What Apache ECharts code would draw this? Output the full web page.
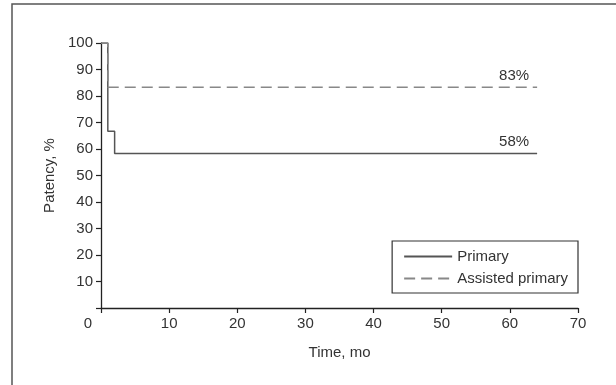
<!DOCTYPE html>
<html>
<head>
<meta charset="utf-8">
<script src="https://cdn.jsdelivr.net/npm/echarts@6/dist/echarts.min.js"></script>
<style>
  html, body { margin: 0; padding: 0; background: #fff; }
  #chart { width: 616px; height: 385px; }
</style>
</head>
<body>
<div id="chart"></div>
<script>
const seriesNames = ["Primary", "Assisted primary"];
// Kaplan-Meier steps: [time (mo), patency (%)]
const primary = [[0, 100], [1, 66.7], [2, 58.3], [64, 58.3]];
const assisted = [[0, 100], [1, 83.3], [64, 83.3]];
const endLabels = ["58%", "83%"];
const xTicks = [0, 10, 20, 30, 40, 50, 60, 70];
const yTicks = [10, 20, 30, 40, 50, 60, 70, 80, 90, 100];

const font = "'Liberation Sans Narrow', 'Arial Narrow', 'Liberation Sans', sans-serif";
const fs = 15;

function endLabel(text) {
  return {
    show: true, formatter: text, align: "right", verticalAlign: "bottom",
    offset: [-8, -4], distance: 0,
    color: "#333", fontSize: fs, fontFamily: font
  };
}

const chart = echarts.init(document.getElementById("chart"));
chart.setOption({
  animation: false,
  textStyle: { fontFamily: font },
  graphic: [
    { type: "polyline", shape: { points: [[12, 385], [12, 4], [616, 4]] },
      style: { stroke: "#555", lineWidth: 1.5, fill: null }, silent: true }
  ],
  grid: { left: 101, right: 38, top: 43, bottom: 77 },
  legend: {
    show: true,
    right: 38, top: 241, orient: "vertical",
    padding: [8, 10, 7, 11], itemGap: 7,
    borderColor: "#333", borderWidth: 1.2,
    itemWidth: 48, itemHeight: 10,
    itemStyle: { opacity: 0 },
    textStyle: { fontSize: fs, color: "#333", fontFamily: font },
    data: seriesNames
  },
  xAxis: {
    type: "value", min: 0, max: 70, interval: 10,
    name: "Time, mo", nameLocation: "middle", nameGap: 37,
    nameTextStyle: { fontSize: fs, color: "#333", fontFamily: font },
    axisLine: { lineStyle: { color: "#222", width: 1.3 } },
    axisTick: { lineStyle: { color: "#222", width: 1.2 }, length: 5 },
    splitLine: { show: false },
    axisLabel: {
      fontSize: fs, color: "#333", margin: 8,
      customValues: xTicks,
      formatter: v => v === 0 ? "{z|0}" : String(v),
      rich: { z: { fontSize: fs, color: "#333", padding: [0, 26, 0, 0], fontFamily: font } }
    }
  },
  yAxis: {
    type: "value", min: 0, max: 100, interval: 10,
    name: "Patency, %", nameLocation: "middle", nameGap: 44, nameRotate: 90,
    nameTextStyle: { fontSize: fs, color: "#333", fontFamily: font },
    axisLine: { show: true, lineStyle: { color: "#222", width: 1.3 } },
    axisTick: { show: true, lineStyle: { color: "#222", width: 1.2 }, length: 5 },
    splitLine: { show: false },
    axisLabel: {
      fontSize: fs, color: "#333", margin: 8,
      formatter: v => yTicks.includes(v) ? String(v) : ""
    }
  },
  series: [
    {
      name: seriesNames[0], type: "line", step: "end", showSymbol: false, symbol: "none",
      color: "#555",
      lineStyle: { color: "#555", width: 1.5, type: "solid" },
      endLabel: endLabel(endLabels[0]),
      data: primary
    },
    {
      name: seriesNames[1], type: "line", step: "end", showSymbol: false, symbol: "none",
      color: "#888",
      lineStyle: { color: "#888", width: 1.5, type: [11, 6] },
      endLabel: endLabel(endLabels[1]),
      data: assisted
    }
  ]
});
</script>
</body>
</html>
